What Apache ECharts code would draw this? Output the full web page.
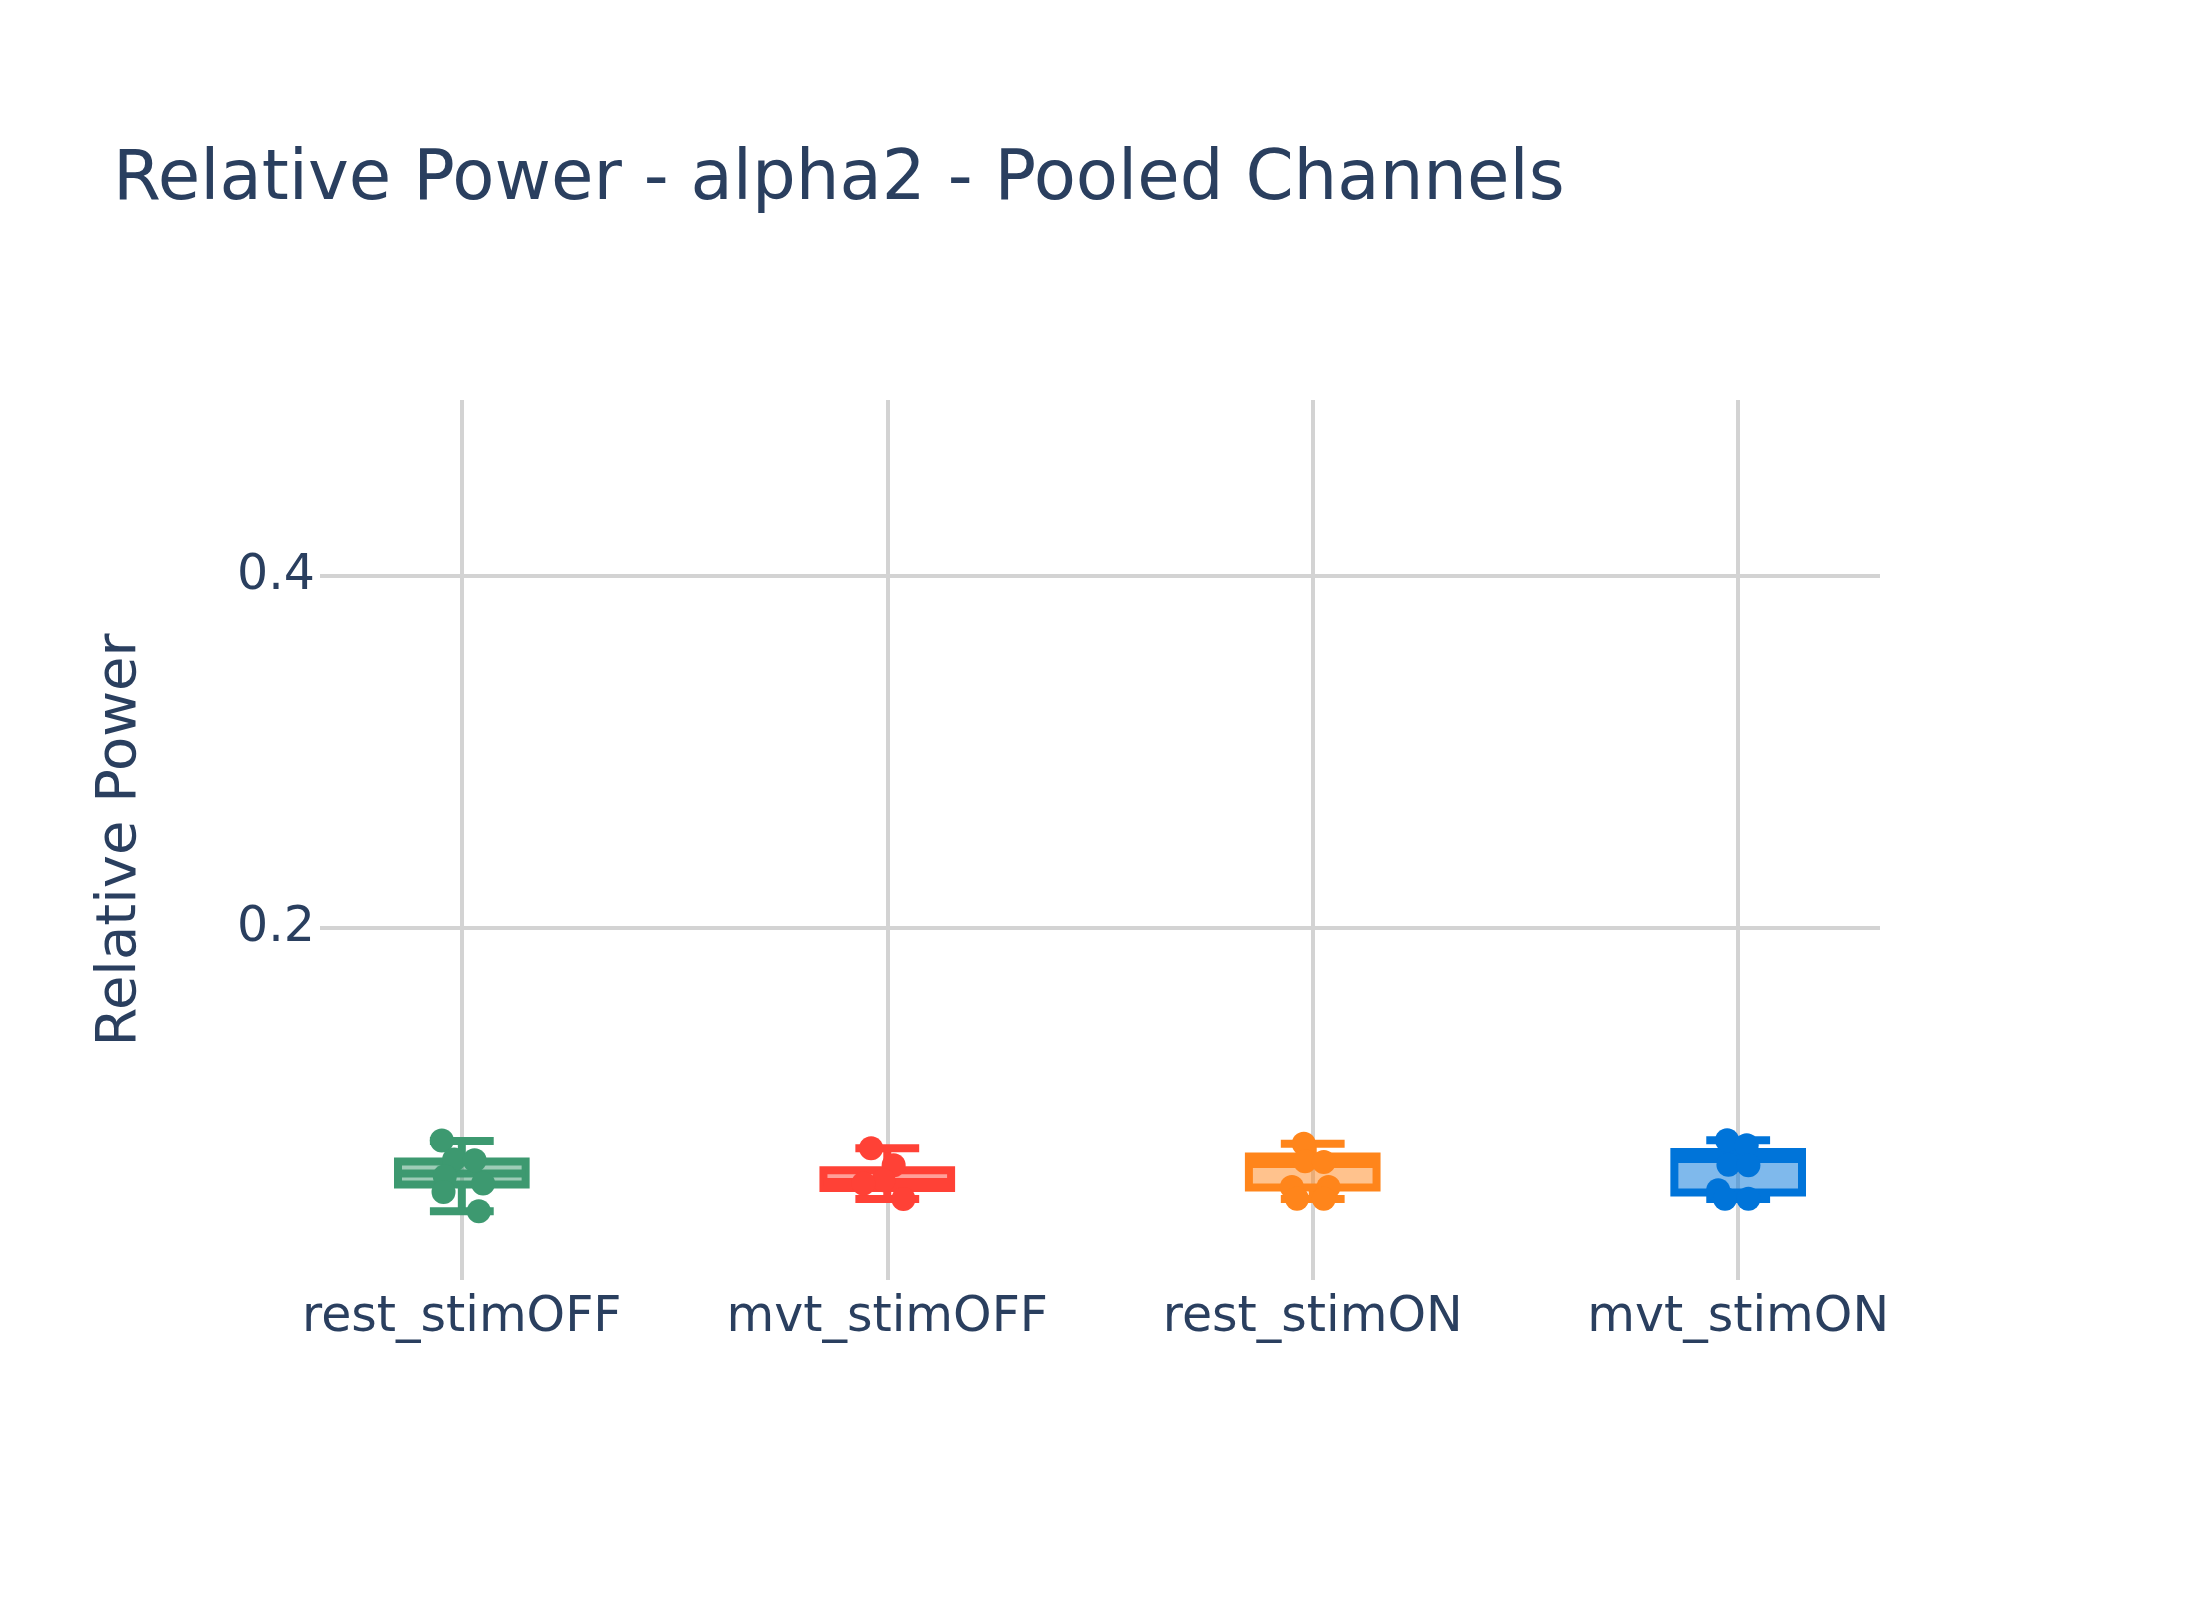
<!DOCTYPE html>
<html><head><meta charset="utf-8">
<script src="https://cdn.jsdelivr.net/npm/echarts@6/dist/echarts.min.js"></script>
<style>html,body{margin:0;padding:0;background:#fff}#c{width:2200px;height:1600px}</style>
</head><body><div id="c"></div>
<script>
// ---- data ----
const categories = ['rest_stimOFF', 'mvt_stimOFF', 'rest_stimON', 'mvt_stimON'];
const lowerWhisker = [0.0391, 0.0460, 0.0460, 0.0460];
const q1 = [0.0543, 0.0523, 0.0526, 0.0497];
const median = [0.0605, 0.0557, 0.0659, 0.0688];
const q3 = [0.0673, 0.0624, 0.0701, 0.0727];
const upperWhisker = [0.0790, 0.0748, 0.0774, 0.0794];

const pointsRestStimOFF = [0.0792, 0.0685, 0.0680, 0.0590, 0.0548, 0.0500, 0.0391];
const pointsMvtStimOFF = [0.0748, 0.0652, 0.0567, 0.0548, 0.0460];
const pointsRestStimON = [0.0774, 0.0675, 0.0670, 0.0528, 0.0528, 0.0462, 0.0462];
const pointsMvtStimON = [0.0794, 0.0765, 0.0655, 0.0652, 0.0510, 0.0462, 0.0462];
const pointValues = [pointsRestStimOFF, pointsMvtStimOFF, pointsRestStimON, pointsMvtStimON];

// horizontal jitter of each point (category units)
const jitterRestStimOFF = [-0.047, -0.018, 0.030, -0.040, 0.050, -0.043, 0.040];
const jitterMvtStimOFF = [-0.038, 0.015, -0.009, -0.056, 0.038];
const jitterRestStimON = [-0.021, -0.018, 0.026, -0.049, 0.037, -0.037, 0.026];
const jitterMvtStimON = [-0.026, 0.020, -0.023, 0.024, -0.047, -0.031, 0.024];
const pointJitter = [jitterRestStimOFF, jitterMvtStimOFF, jitterRestStimON, jitterMvtStimON];

const yTicks = [0.2, 0.4];

// ---- styles ----
const colors = ['#3D9970', '#FF4136', '#FF851B', '#0074D9'];
const fills = ['rgba(61,153,112,0.5)', 'rgba(255,65,54,0.5)', 'rgba(255,133,27,0.5)', 'rgba(0,116,217,0.5)'];
const FONT = 'DejaVu Sans';
const TXT = '#2a3f5f';
const BOX_WIDTH = 0.3;
const LW = 8;

const chart = echarts.init(document.getElementById('c'), null, { renderer: 'canvas' });

const boxData = categories.map((c, i) => [i, lowerWhisker[i], q1[i], median[i], q3[i], upperWhisker[i]]);

function renderBox(params, api) {
  const i = api.value(0);
  const xc = api.coord([i, 0])[0];
  const w = api.size([BOX_WIDTH, 0])[0];
  const hw = w / 2, cw = w / 4;
  const y = v => api.coord([i, v])[1];
  const lw = y(api.value(1)), yq1 = y(api.value(2)), ym = y(api.value(3)), yq3 = y(api.value(4)), uw = y(api.value(5));
  const col = colors[i];
  const ls = { stroke: col, lineWidth: LW, lineCap: 'butt', fill: null };
  return {
    type: 'group',
    children: [
      { type: 'line', shape: { x1: xc, y1: yq3, x2: xc, y2: uw }, style: ls },
      { type: 'line', shape: { x1: xc, y1: yq1, x2: xc, y2: lw }, style: ls },
      { type: 'line', shape: { x1: xc - cw, y1: uw, x2: xc + cw, y2: uw }, style: ls },
      { type: 'line', shape: { x1: xc - cw, y1: lw, x2: xc + cw, y2: lw }, style: ls },
      { type: 'rect', shape: { x: xc - hw, y: yq3, width: w, height: yq1 - yq3 },
        style: { fill: fills[i], stroke: col, lineWidth: LW, lineJoin: 'miter' } },
      { type: 'line', shape: { x1: xc - hw, y1: ym, x2: xc + hw, y2: ym }, style: ls }
    ]
  };
}

const series = [{
  type: 'custom',
  renderItem: renderBox,
  data: boxData,
  encode: { x: 0, y: [1, 2, 3, 4, 5] },
  z: 2,
  silent: true
}];

pointValues.forEach((vals, i) => {
  series.push({
    type: 'scatter',
    data: vals.map((v, k) => [i + pointJitter[i][k], v]),
    symbol: 'circle',
    symbolSize: 24,
    itemStyle: { color: colors[i], opacity: 1 },
    z: 3,
    silent: true
  });
});

chart.setOption({
  animation: false,
  backgroundColor: '#ffffff',
  textStyle: { fontFamily: FONT },
  title: {
    text: 'Relative Power - alpha2 - Pooled Channels',
    left: 108, top: 142,
    textStyle: { fontFamily: FONT, fontSize: 69, fontWeight: 'normal', color: TXT }
  },
  grid: { left: 320, right: 320, top: 400, bottom: 320, containLabel: false },
  xAxis: {
    type: 'value',
    min: -1 / 3, max: 10 / 3,
    axisLine: { show: false },
    axisTick: { show: false, customValues: [0, 1, 2, 3] },
    axisLabel: {
      customValues: [0, 1, 2, 3],
      formatter: v => categories[Math.round(v)],
      fontFamily: FONT, fontSize: 49, color: TXT, margin: 14
    },
    splitLine: { show: true, lineStyle: { color: '#d3d3d3', width: 4 } }
  },
  yAxis: {
    type: 'value',
    min: 0, max: 0.5,
    axisLine: { show: false },
    axisTick: { show: false, customValues: yTicks },
    axisLabel: {
      customValues: yTicks,
      fontFamily: FONT, fontSize: 49, color: TXT, margin: 5
    },
    splitLine: { show: true, lineStyle: { color: '#d3d3d3', width: 4 } },
    name: 'Relative Power',
    nameLocation: 'middle',
    nameGap: 172,
    nameTextStyle: { fontFamily: FONT, fontSize: 56, color: TXT }
  },
  series: series
});
</script>
</body></html>
